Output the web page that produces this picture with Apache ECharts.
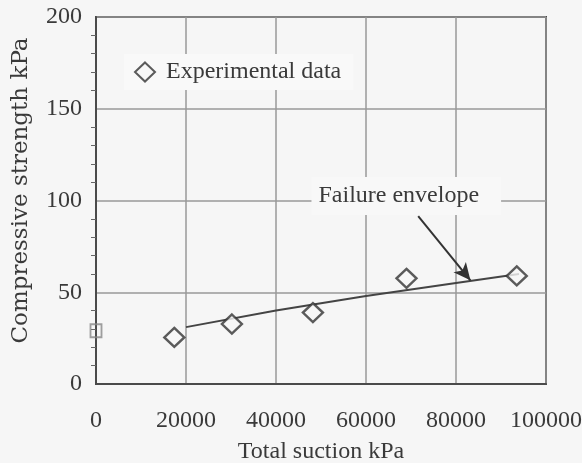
<!DOCTYPE html>
<html>
<head>
<meta charset="utf-8">
<script src="https://cdn.jsdelivr.net/npm/echarts@6/dist/echarts.min.js"></script>
<style>html,body{margin:0;padding:0;background:#f6f6f6;}#c{width:582px;height:463px;}</style>
</head>
<body>
<div id="c"></div>
<script>
// Data
const suction = [17400, 30200, 48200, 69000, 93500];       // Total suction kPa
const strength = [25.4, 32.7, 38.9, 57.6, 58.9];           // Compressive strength kPa
const envelopeX = [20000, 40000, 60000, 80000, 94000];
const envelopeY = [31, 40, 48, 55, 60];
const zeroSuction = [0];
const zeroStrength = [29];
const xTicks = [0, 20000, 40000, 60000, 80000, 100000];
const yTicks = [0, 50, 100, 150, 200];
const labelText = 'Failure envelope';
const arrowFrom = [71600, 91.5];
const arrowTo = [83200, 56.5];
const labelAt = [68950, 102.5];

const font = 'Liberation Serif';
const txt = '#3a3a3a';
const chart = echarts.init(document.getElementById('c'));
chart.setOption({
  backgroundColor: '#f6f6f6',
  animation: false,
  textStyle: {fontFamily: font},
  grid: {left: 96, right: 36, top: 17, bottom: 79, show: true, borderColor: '#4a4a4a', borderWidth: 2,
    backgroundColor: 'transparent', containLabel: false, outerBoundsMode: 'none'},
  legend: {
    data: ['Experimental data'],
    left: 124, top: 54,
    backgroundColor: '#f9f9f9',
    padding: [6, 12, 6, 10],
    itemWidth: 20, itemHeight: 19,
    textStyle: {fontFamily: font, fontSize: 24, color: txt, padding: [0, 0, 0, 6]}
  },
  xAxis: {
    type: 'value', min: xTicks[0], max: xTicks[xTicks.length - 1], interval: 20000,
    axisLine: {show: true, lineStyle: {color: '#4a4a4a', width: 2}},
    axisTick: {show: false},
    axisLabel: {fontSize: 24, color: txt, margin: 25, fontFamily: font, formatter: v => String(v)},
    splitLine: {show: true, lineStyle: {color: '#999', width: 1.5}},
    name: 'Total suction kPa', nameLocation: 'middle', nameGap: 56,
    nameTextStyle: {fontSize: 24, color: txt, fontFamily: font}
  },
  yAxis: {
    type: 'value', min: yTicks[0], max: yTicks[yTicks.length - 1], interval: 50,
    axisLine: {show: true, lineStyle: {color: '#4a4a4a', width: 2}},
    axisTick: {show: false},
    minorTick: {show: true, splitNumber: 5, length: 5, lineStyle: {color: '#666', width: 1}},
    axisLabel: {fontSize: 24, color: txt, margin: 14, fontFamily: font, formatter: v => String(v)},
    splitLine: {show: true, lineStyle: {color: '#999', width: 1.5}},
    name: 'Compressive strength kPa', nameLocation: 'middle', nameGap: 63, nameRotate: 90,
    nameTextStyle: {fontSize: 23, color: txt, fontFamily: 'DejaVu Serif', padding: [0, 0, 0, 20]}
  },
  series: [
    {
      name: 'Failure envelope', type: 'line', showSymbol: false, symbol: 'none',
      data: envelopeX.map((x, i) => [x, envelopeY[i]]),
      lineStyle: {color: '#444', width: 2}, z: 3,
      markLine: {
        silent: true, symbol: ['none', 'arrow'], symbolSize: [12, 17],
        lineStyle: {color: '#333', width: 2, type: 'solid'},
        label: {show: false},
        data: [[{coord: arrowFrom}, {coord: arrowTo}]]
      },
      markPoint: {
        silent: true, symbol: 'circle', symbolSize: 0,
        data: [{coord: labelAt, value: labelText}],
        label: {show: true, position: 'inside', formatter: labelText, fontSize: 24, color: txt, fontFamily: font,
          backgroundColor: '#f8f8f8', padding: [7, 22, 7, 7]}
      }
    },
    {
      name: 'Experimental data', type: 'scatter', symbol: 'diamond', symbolSize: [20, 19],
      data: suction.map((x, i) => [x, strength[i]]),
      itemStyle: {color: '#f8f8f8', borderColor: '#333', borderWidth: 2.4}, z: 4
    },
    {
      name: 'Zero suction', type: 'scatter', symbol: 'rect', symbolSize: [11, 13], clip: false,
      data: zeroSuction.map((x, i) => [x, zeroStrength[i]]),
      itemStyle: {color: 'transparent', borderColor: '#888', borderWidth: 2}, z: 4
    }
  ]
});
</script>
</body>
</html>
